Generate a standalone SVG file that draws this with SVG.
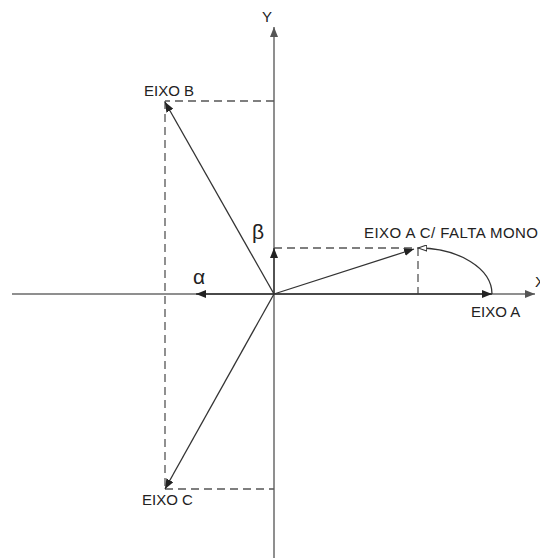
<svg xmlns="http://www.w3.org/2000/svg" width="540" height="558" viewBox="0 0 540 558">
<style>
.axis{stroke:#6a6a6a;stroke-width:1.5;fill:none}
.vec{stroke:#333;stroke-width:1.3;fill:none}
.dash{stroke:#555;stroke-width:1.3;fill:none;stroke-dasharray:8 5}
.lbl{font-family:"Liberation Sans",Arial,sans-serif;font-size:15px;fill:#222}
.greek{font-family:"Liberation Sans",Arial,sans-serif;font-size:21px;fill:#222}
</style>
<defs>
<marker id="ah" viewBox="0 0 10 8" refX="10" refY="4" markerWidth="10" markerHeight="8" markerUnits="userSpaceOnUse" orient="auto">
<path d="M0,0 L10,4 L0,8 Z" fill="#222"/>
</marker>
<marker id="ahg" viewBox="0 0 10 8" refX="10" refY="4" markerWidth="10" markerHeight="8" markerUnits="userSpaceOnUse" orient="auto">
<path d="M0,0 L10,4 L0,8 Z" fill="#555"/>
</marker>
<marker id="aho" viewBox="0 0 10 8" refX="10" refY="4" markerWidth="9" markerHeight="7" markerUnits="userSpaceOnUse" orient="auto">
<path d="M0,0.5 L10,4 L0,7.5 Z" fill="#fff" stroke="#333" stroke-width="1.2"/>
</marker>
</defs>
<g id="axes">
<line class="axis" x1="12" y1="294" x2="535" y2="294" marker-end="url(#ahg)"/>
<line class="axis" x1="274" y1="558" x2="274" y2="27" marker-end="url(#ahg)"/>
<text class="lbl" x="262" y="22" font-size="14">Y</text>
<text class="lbl" x="535" y="287" font-size="13">X</text>
</g>
<g id="guides">
<line class="dash" x1="274" y1="101" x2="165" y2="101"/>
<line class="dash" x1="165" y1="101" x2="165" y2="489"/>
<line class="dash" x1="165" y1="489" x2="274" y2="489"/>
<line class="dash" x1="274" y1="248" x2="418" y2="248"/>
<line class="dash" x1="418" y1="248" x2="418" y2="294"/>
</g>
<g id="connectors">
<line class="vec" x1="274" y1="294" x2="165" y2="102" marker-end="url(#ah)"/>
<line class="vec" x1="274" y1="294" x2="165" y2="489" marker-end="url(#ah)"/>
<line class="vec" x1="274" y1="294" x2="196" y2="294" marker-end="url(#ah)"/>
<line class="vec" x1="274" y1="294" x2="274" y2="248" marker-end="url(#ah)"/>
<line class="vec" x1="274" y1="294" x2="414" y2="249" marker-end="url(#ah)"/>
<line class="vec" x1="274" y1="294" x2="492" y2="294" marker-end="url(#ah)"/>
<path class="vec" d="M492,294 A74 46 0 0 0 418,248" marker-end="url(#aho)"/>
</g>
<g id="eixo-b"><text class="lbl" x="144" y="96">EIXO B</text></g>
<g id="eixo-c"><text class="lbl" x="142" y="505">EIXO C</text></g>
<g id="eixo-a"><text class="lbl" x="471" y="317">EIXO A</text></g>
<g id="eixo-a-falta"><text class="lbl" x="364" y="238" textLength="174" lengthAdjust="spacing">EIXO A C/ FALTA MONO</text></g>
<g id="alpha"><text class="greek" x="193" y="284">α</text></g>
<g id="beta"><text class="greek" x="252" y="239">β</text></g>
</svg>
